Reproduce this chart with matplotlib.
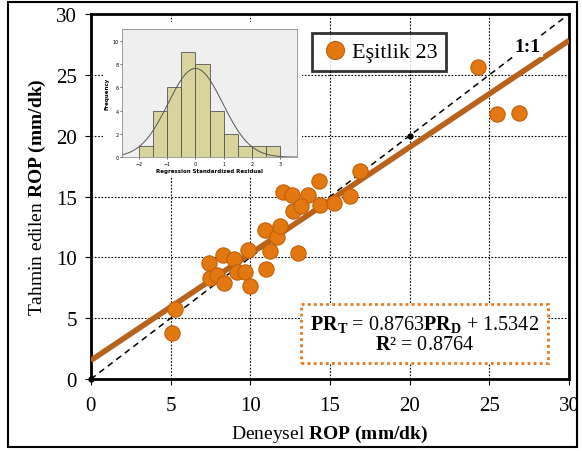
import numpy as np
import matplotlib
matplotlib.use("Agg")
import matplotlib.pyplot as plt
from matplotlib.patches import Rectangle

plt.rcParams["font.family"] = ["Liberation Serif", "DejaVu Serif"]
plt.rcParams["mathtext.fontset"] = "custom"
plt.rcParams["mathtext.rm"] = "Liberation Serif"
plt.rcParams["mathtext.bf"] = "Liberation Serif:bold"
plt.rcParams["mathtext.it"] = "Liberation Serif:italic"

# measured vs predicted ROP (mm/dk)
rop_measured = [5.1, 5.3, 7.4, 8.3, 7.5, 7.9, 8.35, 9.0, 9.15, 9.7, 9.85, 10.0,
                11.0, 10.95, 11.25, 11.7, 11.85, 12.05, 12.6, 13.65, 14.3, 12.7,
                13.2, 14.35, 15.25, 16.25, 16.9, 13.0, 24.25, 25.45, 26.85]
rop_predicted = [3.8, 5.75, 9.5, 10.2, 8.3, 8.55, 7.9, 9.85, 8.8, 8.8, 10.6, 7.65,
                 9.05, 12.25, 10.55, 11.65, 12.55, 15.35, 15.1, 15.1, 16.3, 13.85,
                 14.2, 14.3, 14.5, 15.05, 17.1, 10.4, 25.6, 21.8, 21.9]
slope, intercept, r2 = 0.8763, 1.5342, 0.8764
ref_points = [0, 20]

# residual histogram (inset)
bin_edges = [-2.0, -1.5, -1.0, -0.5, 0.0, 0.5, 1.0, 1.5, 2.0, 2.5, 3.0]
bin_counts = [1, 4, 6, 9, 8, 4, 2, 1, 1, 1]
res_mean, res_sd = 0.0, 0.97

ORANGE = "#E2780F"
LINE = "#B8621C"

fig = plt.figure(figsize=(5.82, 4.52), dpi=100)
ax = fig.add_axes([0.156, 0.159, 0.822, 0.808])

ax.set_xlim(0, 30)
ax.set_ylim(0, 30)
ax.set_xticks(range(0, 31, 5))
ax.set_yticks(range(0, 31, 5))
ax.grid(True, color="black", linestyle=(0, (1.5, 1.5)), linewidth=0.8)
ax.set_axisbelow(True)
for s in ax.spines.values():
    s.set_linewidth(2)
ax.tick_params(labelsize=15, direction="out", length=4, width=0.8)
ax.tick_params(axis="x", pad=8)
ax.tick_params(axis="y", pad=6)

xs = np.array([0, 30])
ax.plot(xs, xs, "--", color="black", lw=1.1, dashes=(4, 3), zorder=2)
ax.plot(ref_points, ref_points, "o", color="black", ms=3.5, zorder=2, clip_on=False)
ax.plot(xs, slope * xs + intercept, color=LINE, lw=4, zorder=3, solid_capstyle="butt")

ax.plot(rop_measured, rop_predicted, "o", ms=11, mfc=ORANGE, mec="#C0600A",
        mew=0.8, zorder=4, label="Eşitlik 23")

ax.text(27.4, 27.3, "1:1", fontsize=14, fontweight="bold", ha="center", va="center",
        zorder=5, bbox=dict(facecolor="white", edgecolor="none", pad=1.5))

ax.set_xlabel(r"Deneysel $\mathbf{ROP\ (mm/dk)}$", fontsize=14, labelpad=6)
ax.set_ylabel(r"Tahmin edilen $\mathbf{ROP\ (mm/dk)}$", fontsize=14, labelpad=6)

leg = ax.legend(loc="upper left", bbox_to_anchor=(0.462, 0.948), fontsize=16,
                frameon=True, fancybox=False, handletextpad=0.1, borderpad=0.4,
                handlelength=1.3, borderaxespad=0)
leg.get_frame().set_edgecolor("black")
leg.get_frame().set_linewidth(2)
for h in leg.get_lines():
    h.set_markersize(13)

eq = (r"$\mathbf{PR_T}$ = 0.8763$\mathbf{PR_D}$ + 1.5342" + "\n"
      + r"$\mathbf{R}$² = " + f"{r2:.4f}")
ax.text(20.95, 3.75, eq, fontsize=14.5, ha="center", va="center", linespacing=1.05,
        zorder=6, bbox=dict(facecolor="white", edgecolor="#E8781E", linewidth=2,
                            linestyle=(0, (1, 1.2)), boxstyle="square,pad=0.45"))

# white backing of the inset picture
back = fig.add_axes([0.177, 0.606, 0.342, 0.343])
back.set_facecolor("white")
back.set_xticks([])
back.set_yticks([])
for s in back.spines.values():
    s.set_visible(False)

# inset histogram
ins = fig.add_axes([0.21, 0.65, 0.3, 0.284])
ins.set_facecolor("#EFEFEF")
ins.bar(bin_edges[:-1], bin_counts, width=0.5, align="edge", color="#D9D49B",
        edgecolor="#555555", linewidth=0.6)
gx = np.linspace(-2.6, 3.6, 200)
scale = sum(bin_counts) * 0.5
gy = scale / (res_sd * np.sqrt(2 * np.pi)) * np.exp(-0.5 * ((gx - res_mean) / res_sd) ** 2)
ins.plot(gx, gy, color="#555555", lw=0.7)
ins.set_xlim(-2.6, 3.6)
ins.set_ylim(0, 11)
ins.set_xticks([-2, -1, 0, 1, 2, 3])
ins.set_yticks([0, 2, 4, 6, 8, 10])
ins.tick_params(labelsize=3.5, length=1.5, width=0.4, pad=1)
for lab in ins.get_xticklabels() + ins.get_yticklabels():
    lab.set_family("DejaVu Sans")
ins.set_xlabel("Regression Standardized Residual", fontsize=4, family="DejaVu Sans",
               fontweight="bold", labelpad=2)
ins.set_ylabel("Frequency", fontsize=4, family="DejaVu Sans", fontweight="bold",
               labelpad=2)
for s in ins.spines.values():
    s.set_linewidth(0.5)
    s.set_color("#777777")

fig.patches.append(Rectangle((0.014, 0.009), 0.978, 0.984, transform=fig.transFigure,
                             fill=False, edgecolor="black", linewidth=1.5))

fig.savefig("out.png", dpi=100)
